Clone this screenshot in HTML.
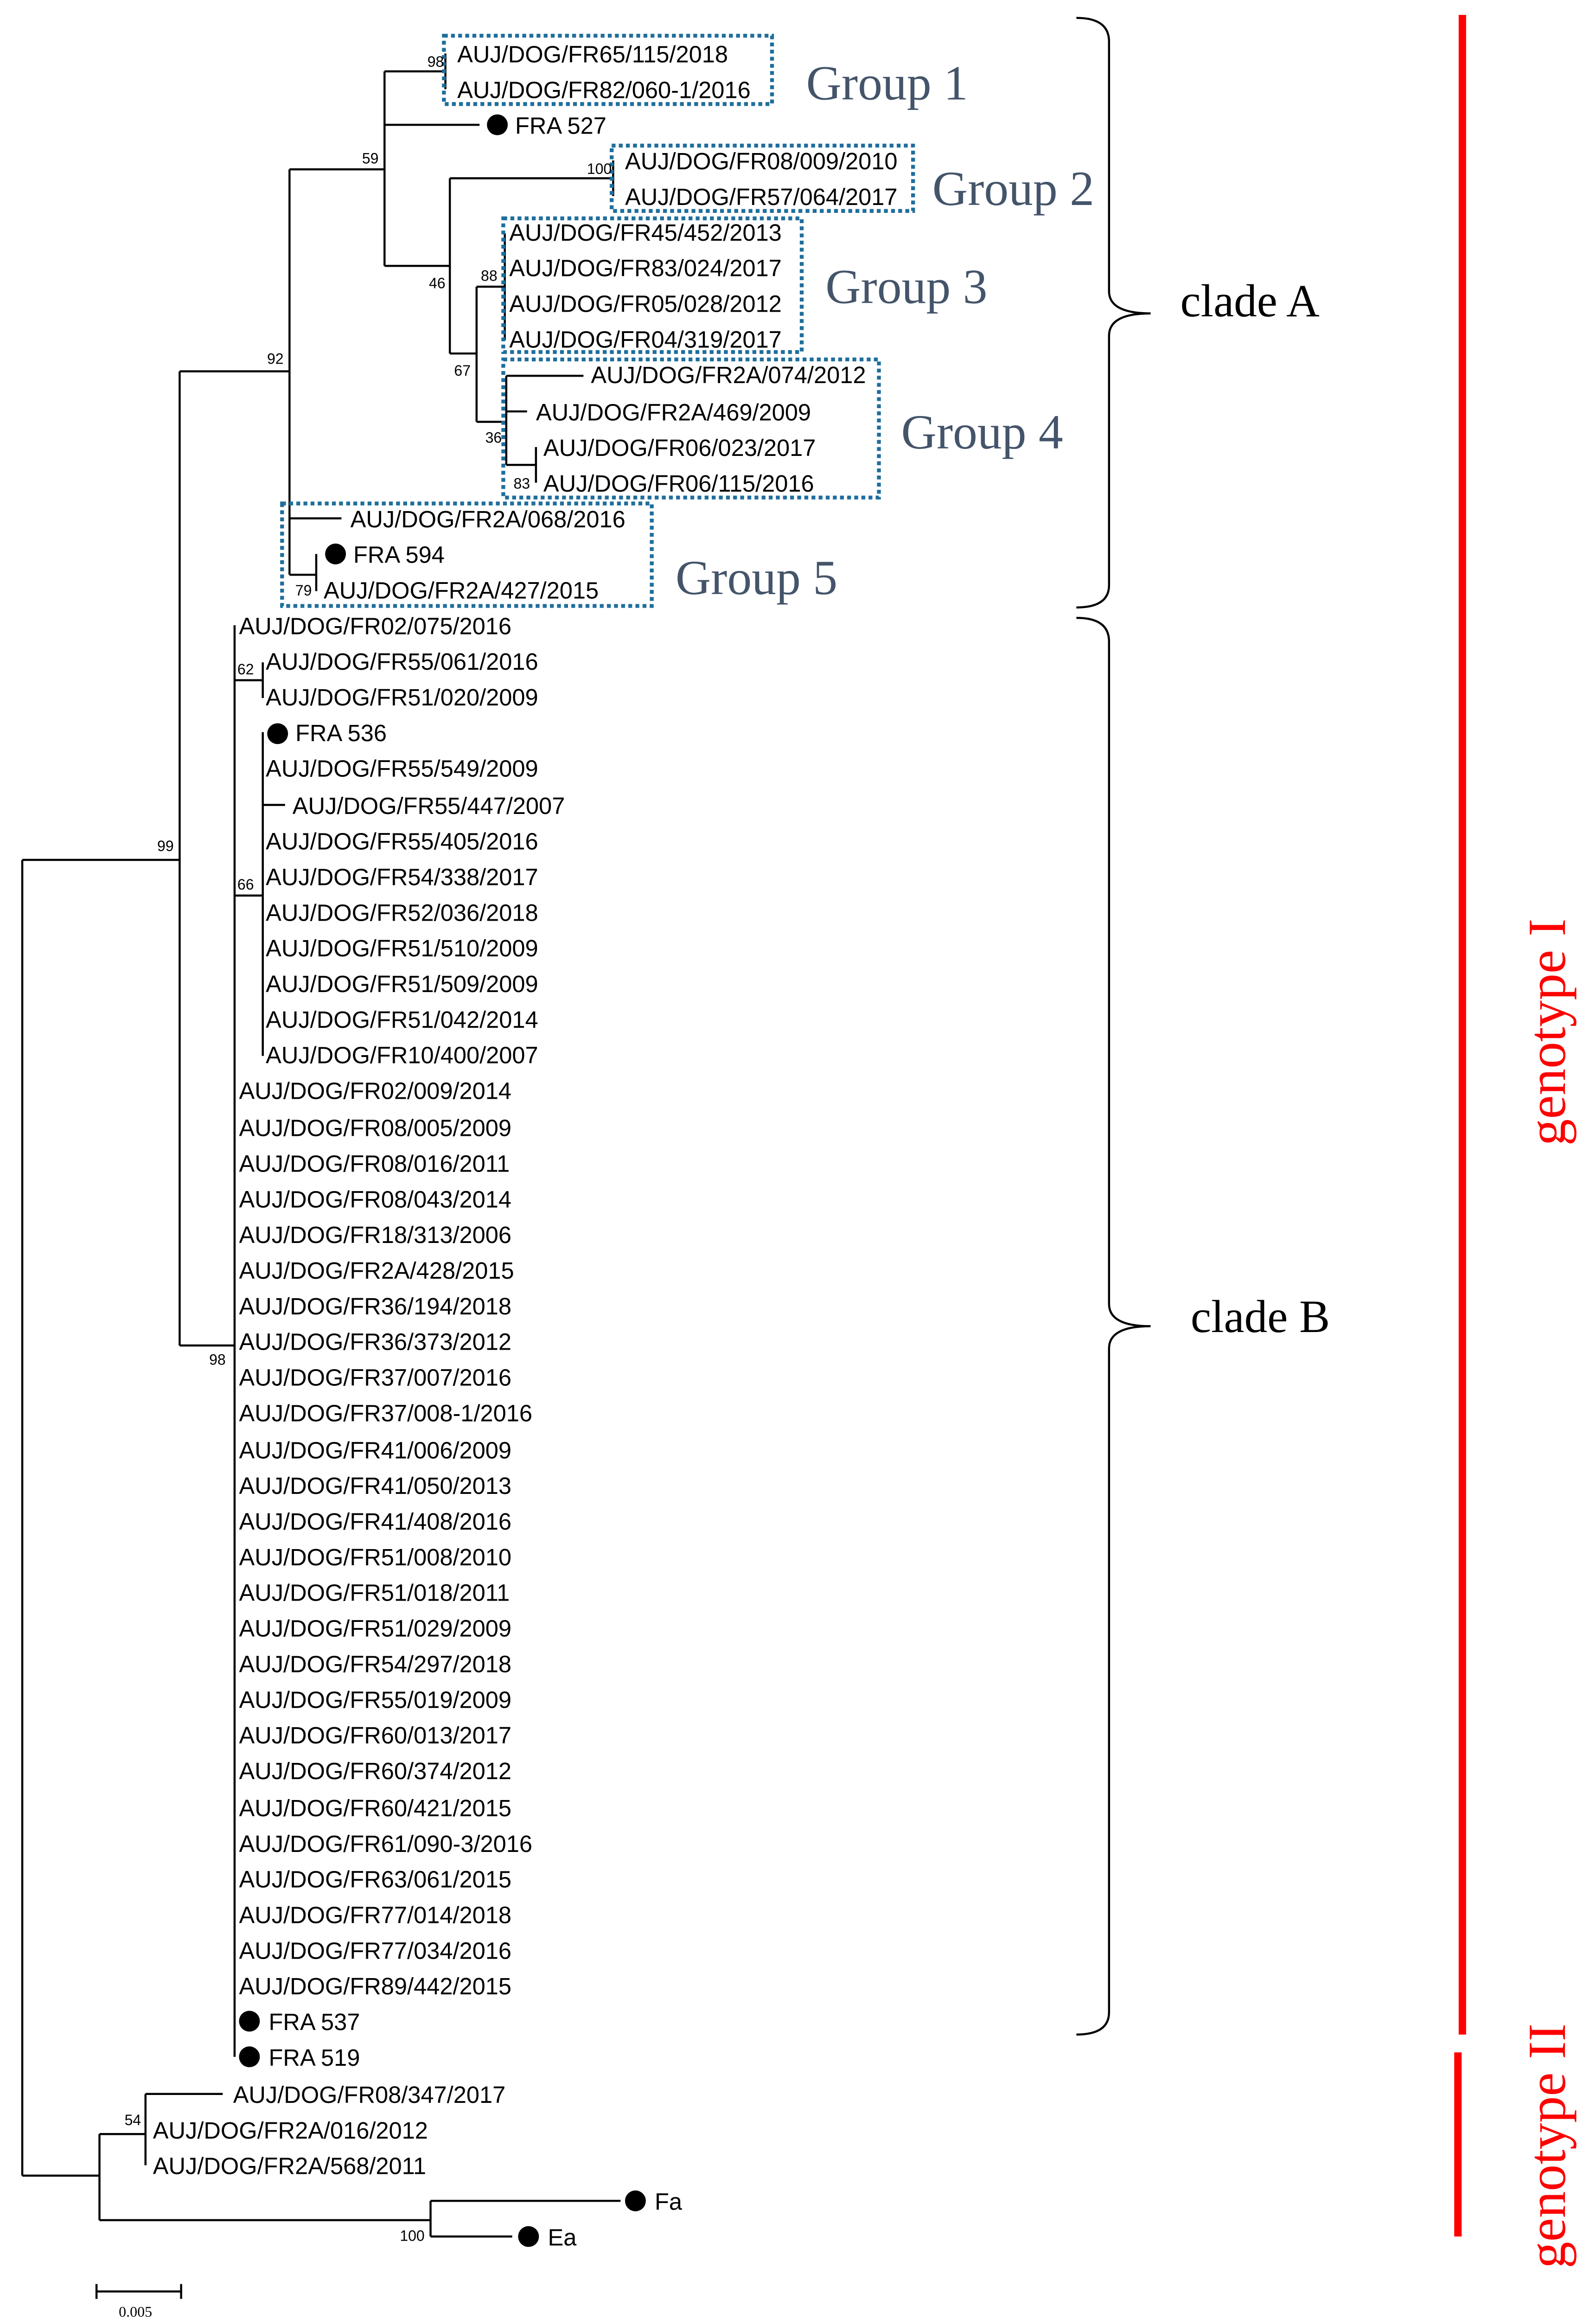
<!DOCTYPE html>
<html><head><meta charset="utf-8"><style>
html,body{margin:0;padding:0;background:#fff;width:3442px;height:5008px;overflow:hidden}
svg{display:block}
.t{font-family:"Liberation Sans",Arial,sans-serif;font-size:15.8px;fill:#000}
.b{font-family:"Liberation Sans",Arial,sans-serif;font-size:10px;fill:#000}
.g{font-family:"Liberation Serif",serif;font-size:33px;fill:#44546a}
.c{font-family:"Liberation Serif",serif;font-size:31px;fill:#000}
.r{font-family:"Liberation Serif",serif;font-size:36px;fill:#ff0000}
</style></head><body>
<svg width="3442" height="5008" viewBox="0 0 1075 1564" xmlns="http://www.w3.org/2000/svg">
<rect width="1075" height="1564" fill="#fff"/>
<g stroke="#000" stroke-width="1.4" fill="none">
<path d="M15,579V1465M15,579H121M15,1465H67"/>
<path d="M121,250V906M121,250H195M121,906H158"/>
<path d="M195,114V387M195,114H259M195,349H230M195,387H213M213,373V398"/>
<path d="M259,48V179M259,48H300M300,36V60M259,84H323M259,179H303"/>
<path d="M303,120V238M303,120H413M413,108V132M303,238H321"/>
<path d="M321,193V284M321,193H340M340,157V229M321,284H341"/>
<path d="M341,253V313M341,253H393M341,277H355M341,313H361M361,301V325"/>
<path d="M158,421V1385M158,458H177M177,446V470M158,603H177M177,493V711M177,542H192"/>
<path d="M67,1437V1495M67,1437H98M98,1410V1458M98,1410H150M67,1495H290M290,1482V1506M290,1482H418M290,1506H345"/>
<path d="M65,1543H122M65,1538V1548M122,1538V1548"/>
</g>
<g fill="#000">
<circle cx="335" cy="84" r="7"/><circle cx="226" cy="373" r="7"/><circle cx="187" cy="494" r="7"/>
<circle cx="168" cy="1361" r="7"/><circle cx="168" cy="1385" r="7"/><circle cx="428" cy="1482" r="7"/><circle cx="356" cy="1506" r="7"/>
</g>
<g fill="none" stroke="#1f6e9c" stroke-width="2.6" stroke-dasharray="2.6 2.2">
<rect x="299" y="24" width="221" height="46"/>
<rect x="412" y="98" width="203" height="44"/>
<rect x="339" y="147" width="201" height="90"/>
<rect x="339" y="242" width="253" height="93"/>
<rect x="190" y="339" width="249" height="69"/>
</g>
<g class="b" text-anchor="end">
<text x="299" y="45">98</text><text x="255" y="110">59</text><text x="412" y="117">100</text>
<text x="300" y="194">46</text><text x="335" y="189">88</text><text x="317" y="253">67</text>
<text x="338" y="298">36</text><text x="357" y="329">83</text><text x="191" y="245">92</text>
<text x="210" y="401">79</text><text x="117" y="573">99</text><text x="171" y="454">62</text>
<text x="171" y="599">66</text><text x="152" y="919">98</text><text x="95" y="1431">54</text><text x="286" y="1509">100</text>
</g>
<g class="t">
<text x="308" y="42">AUJ/DOG/FR65/115/2018</text>
<text x="308" y="66">AUJ/DOG/FR82/060-1/2016</text>
<text x="347" y="90">FRA 527</text>
<text x="421" y="114">AUJ/DOG/FR08/009/2010</text>
<text x="421" y="138">AUJ/DOG/FR57/064/2017</text>
<text x="343" y="162">AUJ/DOG/FR45/452/2013</text>
<text x="343" y="186">AUJ/DOG/FR83/024/2017</text>
<text x="343" y="210">AUJ/DOG/FR05/028/2012</text>
<text x="343" y="234">AUJ/DOG/FR04/319/2017</text>
<text x="398" y="258">AUJ/DOG/FR2A/074/2012</text>
<text x="361" y="283">AUJ/DOG/FR2A/469/2009</text>
<text x="366" y="307">AUJ/DOG/FR06/023/2017</text>
<text x="366" y="331">AUJ/DOG/FR06/115/2016</text>
<text x="236" y="355">AUJ/DOG/FR2A/068/2016</text>
<text x="238" y="379">FRA 594</text>
<text x="218" y="403">AUJ/DOG/FR2A/427/2015</text>
<text x="161" y="427">AUJ/DOG/FR02/075/2016</text>
<text x="179" y="451">AUJ/DOG/FR55/061/2016</text>
<text x="179" y="475">AUJ/DOG/FR51/020/2009</text>
<text x="199" y="499">FRA 536</text>
<text x="179" y="523">AUJ/DOG/FR55/549/2009</text>
<text x="197" y="548">AUJ/DOG/FR55/447/2007</text>
<text x="179" y="572">AUJ/DOG/FR55/405/2016</text>
<text x="179" y="596">AUJ/DOG/FR54/338/2017</text>
<text x="179" y="620">AUJ/DOG/FR52/036/2018</text>
<text x="179" y="644">AUJ/DOG/FR51/510/2009</text>
<text x="179" y="668">AUJ/DOG/FR51/509/2009</text>
<text x="179" y="692">AUJ/DOG/FR51/042/2014</text>
<text x="179" y="716">AUJ/DOG/FR10/400/2007</text>
<text x="161" y="740">AUJ/DOG/FR02/009/2014</text>
<text x="161" y="765">AUJ/DOG/FR08/005/2009</text>
<text x="161" y="789">AUJ/DOG/FR08/016/2011</text>
<text x="161" y="813">AUJ/DOG/FR08/043/2014</text>
<text x="161" y="837">AUJ/DOG/FR18/313/2006</text>
<text x="161" y="861">AUJ/DOG/FR2A/428/2015</text>
<text x="161" y="885">AUJ/DOG/FR36/194/2018</text>
<text x="161" y="909">AUJ/DOG/FR36/373/2012</text>
<text x="161" y="933">AUJ/DOG/FR37/007/2016</text>
<text x="161" y="957">AUJ/DOG/FR37/008-1/2016</text>
<text x="161" y="982">AUJ/DOG/FR41/006/2009</text>
<text x="161" y="1006">AUJ/DOG/FR41/050/2013</text>
<text x="161" y="1030">AUJ/DOG/FR41/408/2016</text>
<text x="161" y="1054">AUJ/DOG/FR51/008/2010</text>
<text x="161" y="1078">AUJ/DOG/FR51/018/2011</text>
<text x="161" y="1102">AUJ/DOG/FR51/029/2009</text>
<text x="161" y="1126">AUJ/DOG/FR54/297/2018</text>
<text x="161" y="1150">AUJ/DOG/FR55/019/2009</text>
<text x="161" y="1174">AUJ/DOG/FR60/013/2017</text>
<text x="161" y="1198">AUJ/DOG/FR60/374/2012</text>
<text x="161" y="1223">AUJ/DOG/FR60/421/2015</text>
<text x="161" y="1247">AUJ/DOG/FR61/090-3/2016</text>
<text x="161" y="1271">AUJ/DOG/FR63/061/2015</text>
<text x="161" y="1295">AUJ/DOG/FR77/014/2018</text>
<text x="161" y="1319">AUJ/DOG/FR77/034/2016</text>
<text x="161" y="1343">AUJ/DOG/FR89/442/2015</text>
<text x="181" y="1367">FRA 537</text>
<text x="181" y="1391">FRA 519</text>
<text x="157" y="1416">AUJ/DOG/FR08/347/2017</text>
<text x="103" y="1440">AUJ/DOG/FR2A/016/2012</text>
<text x="103" y="1464">AUJ/DOG/FR2A/568/2011</text>
<text x="441" y="1488">Fa</text>
<text x="369" y="1512">Ea</text>
</g>
<text x="80" y="1560" style="font-family:'Liberation Serif',serif;font-size:10px">0.005</text>
<g class="g">
<text x="543" y="67">Group 1</text><text x="628" y="138">Group 2</text><text x="556" y="204">Group 3</text>
<text x="607" y="302">Group 4</text><text x="455" y="400">Group 5</text>
</g>
<g fill="none" stroke="#000" stroke-width="1.4">
<path d="M725,12Q747,12 747,28V196Q747,211 775,211Q747,211 747,226V394Q747,409 725,409"/>
<path d="M725,416Q747,416 747,432V878Q747,893 775,893Q747,893 747,908V1355Q747,1370 725,1370"/>
</g>
<text class="c" x="795" y="213">clade A</text>
<text class="c" x="802" y="897">clade B</text>
<path d="M985,10V1370M982,1382V1506" stroke="#ff0000" stroke-width="5" fill="none"/>
<text class="r" transform="translate(1054,695) rotate(-90)" text-anchor="middle">genotype I</text>
<text class="r" transform="translate(1054,1445) rotate(-90)" text-anchor="middle">genotype II</text>
</svg>
</body></html>
